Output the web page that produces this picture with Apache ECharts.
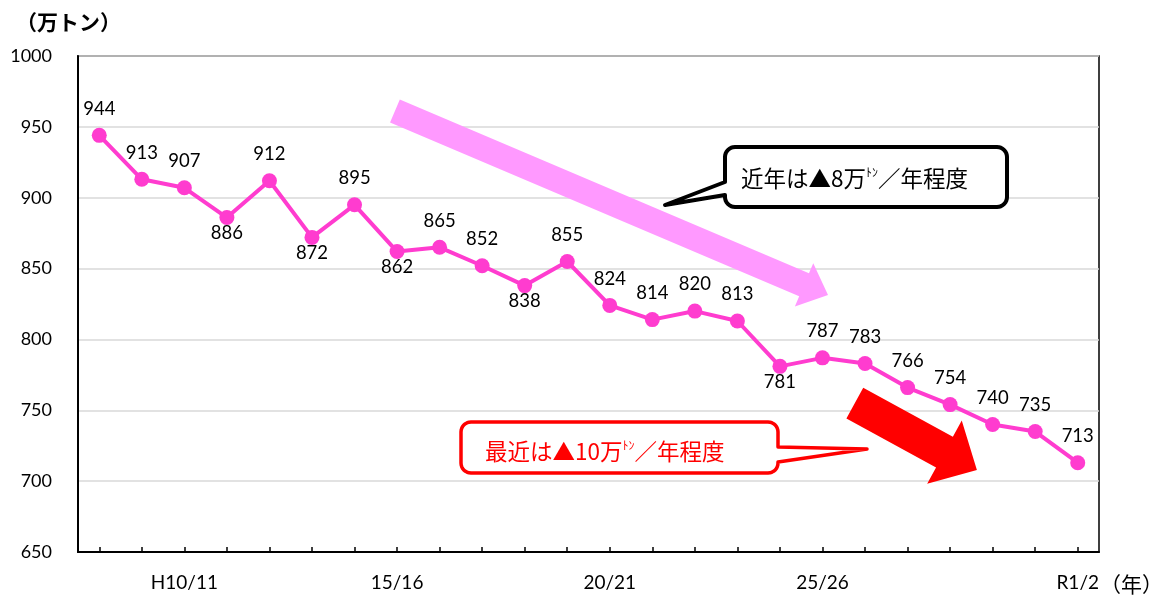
<!DOCTYPE html>
<html><head><meta charset="utf-8">
<script src="https://cdn.jsdelivr.net/npm/echarts@6/dist/echarts.min.js"></script>
<style>html,body{margin:0;padding:0;background:#fff}#c{width:1163px;height:596px}</style>
</head><body><div id="c"></div>
<script>
const categories = ['H8/9','9/10','H10/11','11/12','12/13','13/14','14/15','15/16','16/17','17/18','18/19','19/20','20/21','21/22','22/23','23/24','24/25','25/26','26/27','27/28','28/29','29/30','30/R1','R1/2'];
const values = [944,913,907,886,912,872,895,862,865,852,838,855,824,814,820,813,781,787,783,766,754,740,735,713];
const shownTickLabels = ['H10/11','15/16','20/21','25/26','R1/2'];
const yTicks = [650,700,750,800,850,900,950,1000];
const yUnit = '（万トン）';
const xUnit = '（年）';
const note1 = '近年は▲8万{s|ﾄﾝ}／年程度';
const note2 = '最近は▲10万{s|ﾄﾝ}／年程度';

const belowIdx = [3,5,7,10,16];
const LINE = '#FF3CCF';
const NUM_FONT = 'Lato, "Noto Sans CJK JP", sans-serif';
const JP_FONT = '"Noto Sans CJK JP", sans-serif';

const chart = echarts.init(document.getElementById('c'), null, {renderer:'canvas'});
chart.setOption({
  animation:false,
  backgroundColor:'#fff',
  grid:{left:78, top:56, right:64, bottom:44, containLabel:false, outerBoundsMode:'none',
        show:true, borderColor:'#000', borderWidth:1.5},
  xAxis:{
    type:'category', data:categories, boundaryGap:true,
    axisLine:{lineStyle:{color:'#000', width:2}},
    axisTick:{show:true, inside:true, alignWithLabel:true, interval:0, length:5, lineStyle:{color:'#000', width:1.5}},
    axisLabel:{interval:(i,v)=>shownTickLabels.includes(v), margin:21, color:'#000', fontSize:19, fontFamily:NUM_FONT},
    splitLine:{show:false}
  },
  yAxis:{
    type:'value', min:yTicks[0], max:yTicks[yTicks.length-1], interval:50,
    axisLine:{show:true, lineStyle:{color:'#000', width:2}},
    axisTick:{show:false},
    axisLabel:{margin:26, color:'#000', fontSize:18, fontFamily:NUM_FONT, formatter:(v)=>String(v)},
    splitLine:{show:true, lineStyle:{color:'#d9d9d9', width:1.5}}
  },
  series:[{
    type:'line', data:values.map((v,i)=>({value:v, label:{position: belowIdx.includes(i)?'bottom':'top', distance: belowIdx.includes(i)?-1:10}})),
    symbol:'circle', symbolSize:15,
    lineStyle:{color:LINE, width:4},
    itemStyle:{color:LINE},
    label:{show:true, color:'#000', fontSize:18.5, fontFamily:NUM_FONT},
    z:5
  }]
});

function toPx(i, v){
  const f = Math.floor(i);
  const a = chart.convertToPixel({gridIndex:0},[f, v]);
  const b = chart.convertToPixel({gridIndex:0},[f+1, v]);
  return [a[0] + (i-f)*(b[0]-a[0]), a[1]];
}
function arrow(t, p, sw, hw, hl){
  const dx=p[0]-t[0], dy=p[1]-t[1], L=Math.hypot(dx,dy);
  const ux=dx/L, uy=dy/L, nx=-uy, ny=ux;
  const bx=p[0]-ux*hl, by=p[1]-uy*hl;
  return [
    [t[0]+nx*sw/2, t[1]+ny*sw/2],
    [bx+nx*sw/2, by+ny*sw/2],
    [bx+nx*hw/2, by+ny*hw/2],
    [p[0],p[1]],
    [bx-nx*hw/2, by-ny*hw/2],
    [bx-nx*sw/2, by-ny*sw/2],
    [t[0]-nx*sw/2, t[1]-ny*sw/2]
  ];
}
function arc(pts, cx, cy, r, a0, a1){
  for(let k=0;k<=8;k++){ const a=(a0+(a1-a0)*k/8)*Math.PI/180; pts.push([cx+r*Math.cos(a), cy+r*Math.sin(a)]); }
}
function callout(x0,y0,x1,y1,r,side,ya,yb,tip){
  const pts=[];
  arc(pts,x0+r,y0+r,r,180,270);
  arc(pts,x1-r,y0+r,r,270,360);
  if(side==='right'){ pts.push([x1,ya]); pts.push(tip); pts.push([x1,yb]); }
  arc(pts,x1-r,y1-r,r,0,90);
  arc(pts,x0+r,y1-r,r,90,180);
  if(side==='left'){ pts.push([x0,yb]); pts.push(tip); pts.push([x0,ya]); }
  return pts;
}
const pinkArrow = arrow(toPx(6.95,961.2), toPx(17.13,831.4), 25, 47, 26);
const redArrow = arrow(toPx(17.76,755.1), toPx(20.63,707.9), 35, 72, 37);
const box1 = callout(725,147,1007,207,10,'left',182,195,[665,205]);
const box2 = callout(461,422,778,473,10,'right',447,462,[867,449]);

chart.setOption({graphic:[
  {type:'polygon', shape:{points:pinkArrow}, style:{fill:'#FF99FF'}, z:3},
  {type:'polygon', shape:{points:redArrow}, style:{fill:'#FF0000'}, z:3},
  {type:'polygon', shape:{points:box1}, style:{fill:'#fff', stroke:'#000', lineWidth:4, lineJoin:'round'}, z:4},
  {type:'polygon', shape:{points:box2}, style:{fill:'#fff', stroke:'#FF0000', lineWidth:3.5, lineJoin:'round'}, z:4},
  {type:'text', x:741, y:178, z:6, style:{text:note1, fill:'#000', fontSize:22.5, fontFamily:JP_FONT, verticalAlign:'middle', align:'left',
     rich:{s:{fontSize:12, fontFamily:JP_FONT, fill:'#000', verticalAlign:'top'}}}},
  {type:'text', x:485, y:451, z:6, style:{text:note2, fill:'#FF0000', fontSize:22.5, fontFamily:JP_FONT, verticalAlign:'middle', align:'left',
     rich:{s:{fontSize:12, fontFamily:JP_FONT, fill:'#FF0000', verticalAlign:'top'}}}},
  {type:'text', x:16, y:22, z:6, style:{text:yUnit, fill:'#000', fontSize:21, fontWeight:'bold', fontFamily:JP_FONT, verticalAlign:'middle', align:'left'}},
  {type:'text', x:1100, y:584, z:6, style:{text:xUnit, fill:'#000', fontSize:21, fontFamily:JP_FONT, verticalAlign:'middle', align:'left'}}
]});
</script></body></html>
